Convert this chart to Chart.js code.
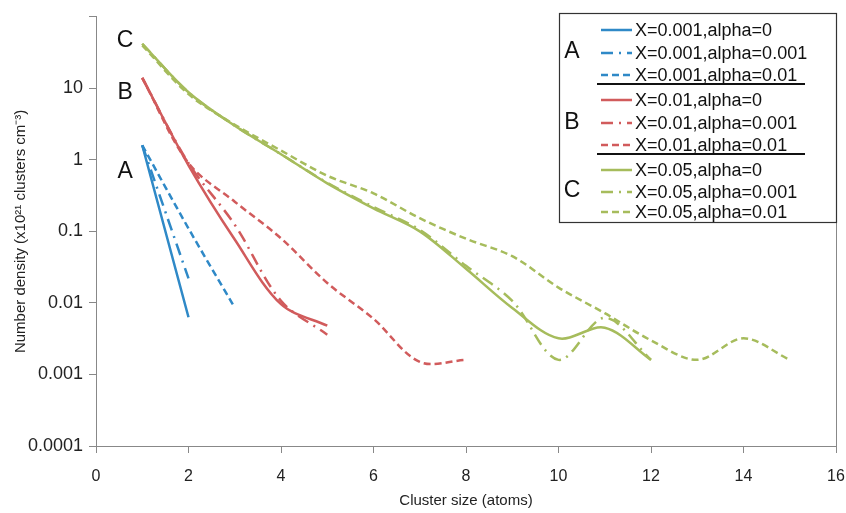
<!DOCTYPE html>
<html>
<head>
<meta charset="utf-8">
<script src="https://cdn.jsdelivr.net/npm/chart.js@4.4.0/dist/chart.umd.min.js"></script>
<style>
    html, body { margin: 0; padding: 0; background: #fff; }
    #wrap { width: 846px; height: 513px; position: relative; }
</style>
</head>
<body>
<div id="wrap"><canvas id="chart" width="846" height="513"></canvas></div>
<script>
// cluster sizes (atoms)
const sizes = [1, 2, 3, 4, 5, 6, 7, 8, 9, 10, 11, 12, 13, 14, 15];

// A: X=0.001
const a0    = [1.6, 0.0063];
const a001  = [1.6, 0.022];
const a01   = [1.6, 0.11, 0.0086];
// B: X=0.01
const b0    = [14, 0.84, 0.077, 0.0096, 0.0048];
const b001  = [14, 0.9, 0.124, 0.0107, 0.0036];
const b01   = [14, 0.9, 0.26, 0.08, 0.019, 0.006, 0.0015, 0.0016];
// C: X=0.05
const c0    = [42, 8.8, 3.0, 1.2, 0.47, 0.21, 0.1, 0.03, 0.0085, 0.0032, 0.0045, 0.0016];
const c001  = [42, 8.8, 3.0, 1.2, 0.48, 0.22, 0.105, 0.033, 0.0107, 0.0016, 0.0062, 0.0016];
const c01   = [40, 8.3, 3.1, 1.35, 0.6, 0.34, 0.153, 0.079, 0.045, 0.0164, 0.0072, 0.003, 0.0016, 0.0032, 0.0016];

const yTicks = [0.0001, 0.001, 0.01, 0.1, 1, 10, 100];
const yTickLabels = ['0.0001', '0.001', '0.01', '0.1', '1', '10', ''];
const xTicks = [0, 2, 4, 6, 8, 10, 12, 14, 16];

const BLUE = '#2f89c7';
const RED = '#d15b5c';
const GREEN = '#a6bc5c';
const SOLID = [];
const DASHDOT = [12, 6, 2, 6];
const DASH = [7, 4];
const FONT = '"Liberation Sans", Arial, sans-serif';

const series = [
    { label: 'X=0.001,alpha=0',     data: a0,   color: BLUE,  dash: SOLID },
    { label: 'X=0.001,alpha=0.001', data: a001, color: BLUE,  dash: DASHDOT },
    { label: 'X=0.001,alpha=0.01',  data: a01,  color: BLUE,  dash: DASH },
    { label: 'X=0.01,alpha=0',      data: b0,   color: RED,   dash: SOLID },
    { label: 'X=0.01,alpha=0.001',  data: b001, color: RED,   dash: DASHDOT },
    { label: 'X=0.01,alpha=0.01',   data: b01,  color: RED,   dash: DASH },
    { label: 'X=0.05,alpha=0',      data: c0,   color: GREEN, dash: SOLID },
    { label: 'X=0.05,alpha=0.001',  data: c001, color: GREEN, dash: DASHDOT },
    { label: 'X=0.05,alpha=0.01',   data: c01,  color: GREEN, dash: DASH }
];

// group letters next to the curve starts (data coords)
const groupLabels = [
    { text: 'A', x: 0.63, y: 0.68 },
    { text: 'B', x: 0.63, y: 8.8 },
    { text: 'C', x: 0.63, y: 46 }
];

// right frame line, A/B/C letters, boxed legend with group separators
const decorPlugin = {
    id: 'decor',
    afterDraw(chart) {
        const { ctx, chartArea, scales } = chart;
        ctx.save();

        ctx.strokeStyle = '#888';
        ctx.lineWidth = 1;
        ctx.beginPath();
        ctx.moveTo(chartArea.right + 0.5, chartArea.top);
        ctx.lineTo(chartArea.right + 0.5, chartArea.bottom);
        ctx.stroke();

        ctx.fillStyle = '#111';
        ctx.font = '23px ' + FONT;
        ctx.textAlign = 'center';
        ctx.textBaseline = 'middle';
        groupLabels.forEach(g => {
            ctx.fillText(g.text, scales.x.getPixelForValue(g.x), scales.y.getPixelForValue(g.y));
        });

        // legend box
        const box = { left: 559, top: 13, right: chartArea.right, bottom: 222 };
        ctx.fillStyle = '#fff';
        ctx.fillRect(box.left, box.top, box.right - box.left, box.bottom - box.top);
        ctx.strokeStyle = '#333';
        ctx.lineWidth = 1.2;
        ctx.strokeRect(box.left + 0.5, box.top + 0.5, box.right - box.left, box.bottom - box.top);

        const rowY = [30, 53, 75, 100, 123, 145, 170, 192, 212];
        ctx.font = '18px ' + FONT;
        ctx.textAlign = 'left';
        ctx.textBaseline = 'middle';
        series.forEach((s, i) => {
            const y = rowY[i];
            ctx.strokeStyle = s.color;
            ctx.lineWidth = 2.5;
            ctx.setLineDash(s.dash);
            ctx.beginPath();
            ctx.moveTo(601, y);
            ctx.lineTo(632, y);
            ctx.stroke();
            ctx.setLineDash([]);
            ctx.fillStyle = '#111';
            ctx.fillText(s.label, 635, y + 1);
        });

        ctx.strokeStyle = '#111';
        ctx.lineWidth = 2;
        [84, 154].forEach(y => {
            ctx.beginPath();
            ctx.moveTo(597, y);
            ctx.lineTo(805, y);
            ctx.stroke();
        });

        ctx.font = '23px ' + FONT;
        ctx.textAlign = 'center';
        ctx.fillText('A', 572, 52);
        ctx.fillText('B', 572, 123);
        ctx.fillText('C', 572, 191);

        ctx.restore();
    }
};

new Chart(document.getElementById('chart'), {
    type: 'line',
    data: {
        datasets: series.map(s => ({
            label: s.label,
            data: s.data.map((v, i) => ({ x: sizes[i], y: v })),
            borderColor: s.color,
            backgroundColor: s.color,
            borderWidth: 2.5,
            borderDash: s.dash,
            pointRadius: 0,
            tension: 0.33,
            fill: false
        }))
    },
    options: {
        responsive: false,
        animation: false,
        layout: { padding: { top: 14, right: 10, left: 0, bottom: 0 } },
        plugins: {
            legend: { display: false },
            tooltip: { enabled: false }
        },
        scales: {
            x: {
                type: 'linear',
                min: 0,
                max: 16,
                afterBuildTicks: axis => { axis.ticks = xTicks.map(v => ({ value: v })); },
                afterFit: axis => { axis.height = 67; axis.paddingLeft = 0; axis.paddingRight = 0; },
                grid: { drawOnChartArea: false, drawTicks: true, tickLength: 7, color: '#888' },
                border: { display: true, color: '#888', width: 1 },
                ticks: { color: '#222', font: { family: FONT, size: 16 }, padding: 14, maxRotation: 0 },
                title: {
                    display: true,
                    text: 'Cluster size (atoms)',
                    color: '#222',
                    font: { family: FONT, size: 15 },
                    padding: { top: 0, bottom: 3 }
                }
            },
            y: {
                type: 'logarithmic',
                min: 0.0001,
                max: 100,
                afterBuildTicks: axis => { axis.ticks = yTicks.map(v => ({ value: v })); },
                afterFit: axis => { axis.width = 96; },
                grid: { drawOnChartArea: false, drawTicks: true, tickLength: 7, color: '#888' },
                border: { display: true, color: '#888', width: 1 },
                ticks: {
                    color: '#222',
                    font: { family: FONT, size: 18 },
                    padding: 6,
                    callback: v => yTickLabels[yTicks.indexOf(v)] ?? ''
                },
                title: {
                    display: true,
                    text: 'Number density (x10²¹ clusters cm⁻³)',
                    color: '#222',
                    font: { family: FONT, size: 15 },
                    padding: { top: 12, bottom: 0 }
                }
            }
        }
    },
    plugins: [decorPlugin]
});
</script>
</body>
</html>
